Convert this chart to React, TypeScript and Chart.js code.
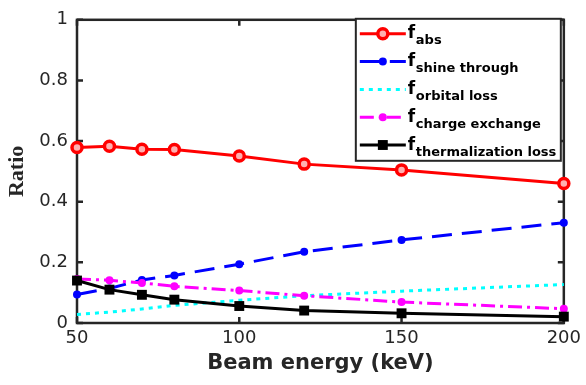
import React, { useEffect, useRef } from "react";
import { Chart, registerables } from "chart.js";

Chart.register(...registerables);

const beamEnergy = [50, 60, 70, 80, 100, 120, 150, 200];
const fAbs = [0.579, 0.583, 0.573, 0.572, 0.551, 0.524, 0.505, 0.46];
const fShineThrough = [0.094, 0.114, 0.142, 0.157, 0.194, 0.235, 0.274, 0.331];
const fOrbitalLoss = [0.028, 0.036, 0.046, 0.058, 0.075, 0.09, 0.105, 0.127];
const fChargeExchange = [0.145, 0.141, 0.132, 0.121, 0.107, 0.09, 0.069, 0.047];
const fThermalizationLoss = [0.14, 0.11, 0.093, 0.077, 0.056, 0.041, 0.032, 0.021];

const xTickValues = [50, 100, 150, 200];
const yTickValues = [0, 0.2, 0.4, 0.6, 0.8, 1];
const seriesSubscripts = ["abs", "shine through", "orbital loss", "charge exchange", "thermalization loss"];
const xTitle = "Beam energy (keV)";
const yTitle = "Ratio";

const AXIS_COLOR = "#262626";

type Style = {
  color: string;
  fill: string;
  dash: number[];
  marker: "circle" | "rect" | "none";
  radius: number;
  markerBorder: number;
};

const styles: Style[] = [
  { color: "#ff0000", fill: "#ffb0b0", dash: [], marker: "circle", radius: 5, markerBorder: 3.5 },
  { color: "#0000ff", fill: "#0000ff", dash: [20, 10], marker: "circle", radius: 4, markerBorder: 0 },
  { color: "#00ffff", fill: "#00ffff", dash: [4, 5], marker: "none", radius: 0, markerBorder: 0 },
  { color: "#ff00ff", fill: "#ff00ff", dash: [14, 5, 3, 5], marker: "circle", radius: 4, markerBorder: 0 },
  { color: "#000000", fill: "#000000", dash: [], marker: "rect", radius: 7, markerBorder: 0 },
];

const seriesValues = [fAbs, fShineThrough, fOrbitalLoss, fChargeExchange, fThermalizationLoss];

const framePlugin = {
  id: "frame",
  beforeDatasetsDraw(chart: any) {
    const { ctx, chartArea: a, scales } = chart;
    ctx.save();
    ctx.strokeStyle = AXIS_COLOR;
    ctx.lineWidth = 2.5;
    ctx.setLineDash([]);
    ctx.strokeRect(a.left, a.top, a.right - a.left, a.bottom - a.top);
    const t = 6;
    ctx.beginPath();
    for (const v of xTickValues) {
      const px = scales.x.getPixelForValue(v);
      ctx.moveTo(px, a.bottom);
      ctx.lineTo(px, a.bottom - t);
      ctx.moveTo(px, a.top);
      ctx.lineTo(px, a.top + t);
    }
    for (const v of yTickValues) {
      const py = scales.y.getPixelForValue(v);
      ctx.moveTo(a.left, py);
      ctx.lineTo(a.left + t, py);
      ctx.moveTo(a.right, py);
      ctx.lineTo(a.right - t, py);
    }
    ctx.stroke();
    ctx.restore();
  },
};

const legendPlugin = {
  id: "matlabLegend",
  afterDraw(chart: any) {
    const { ctx, chartArea: a } = chart;
    const right = a.right - 3;
    const left = right - 205;
    const top = a.top - 1;
    const rowH = 27.8;
    const height = 142;
    ctx.save();
    ctx.fillStyle = "#ffffff";
    ctx.fillRect(left, top, right - left, height);
    ctx.strokeStyle = AXIS_COLOR;
    ctx.lineWidth = 2;
    ctx.setLineDash([]);
    ctx.strokeRect(left, top, right - left, height);
    seriesSubscripts.forEach((sub, i) => {
      const s = styles[i];
      const y = top + 15 + i * rowH;
      ctx.strokeStyle = s.color;
      ctx.lineWidth = 3;
      ctx.setLineDash(s.dash);
      ctx.beginPath();
      ctx.moveTo(left + 4, y);
      ctx.lineTo(left + 50, y);
      ctx.stroke();
      ctx.setLineDash([]);
      const mx = left + 27;
      ctx.fillStyle = s.fill;
      if (s.marker === "circle") {
        ctx.beginPath();
        ctx.arc(mx, y, s.radius, 0, Math.PI * 2);
        ctx.fill();
        if (s.markerBorder > 0) {
          ctx.lineWidth = s.markerBorder;
          ctx.strokeStyle = s.color;
          ctx.stroke();
        }
      } else if (s.marker === "rect") {
        const h = s.radius / Math.SQRT2;
        ctx.fillRect(mx - h, y - h, 2 * h, 2 * h);
      }
      ctx.fillStyle = "#000000";
      ctx.textAlign = "left";
      ctx.textBaseline = "alphabetic";
      ctx.font = "bold 17px 'DejaVu Sans'";
      ctx.fillText("f", left + 52, y + 4.5);
      ctx.font = "bold 13px 'DejaVu Sans'";
      ctx.fillText(sub, left + 60, y + 10.5);
    });
    ctx.restore();
  },
};

export default function App() {
  const canvasRef = useRef<HTMLCanvasElement | null>(null);

  useEffect(() => {
    if (!canvasRef.current) return;
    const datasets = seriesValues.map((vals, i) => {
      const s = styles[i];
      return {
        label: "f " + seriesSubscripts[i],
        data: beamEnergy.map((x, k) => ({ x, y: vals[k] })),
        borderColor: s.color,
        backgroundColor: s.color,
        borderWidth: 3,
        borderDash: s.dash,
        pointStyle: s.marker === "none" ? "circle" : s.marker,
        pointRadius: s.marker === "none" ? 0 : s.radius,
        pointBorderWidth: s.markerBorder,
        pointBackgroundColor: s.fill,
        pointBorderColor: s.color,
        tension: 0,
        clip: false as any,
        order: 5 - i,
      };
    });

    const chart = new Chart(canvasRef.current, {
      type: "line",
      data: { datasets },
      options: {
        responsive: false,
        animation: false,
        devicePixelRatio: 1,
        layout: { padding: { top: 16, right: 18, left: 0, bottom: 0 } },
        plugins: {
          legend: { display: false },
          tooltip: { enabled: false },
        },
        scales: {
          x: {
            type: "linear",
            min: 50,
            max: 200,
            afterBuildTicks: (scale: any) => {
              scale.ticks = xTickValues.map((v) => ({ value: v }));
            },
            afterFit: (scale: any) => {
              scale.height = 62;
            },
            grid: { display: false, drawTicks: false },
            border: { display: false },
            ticks: {
              padding: 5,
              color: AXIS_COLOR,
              font: { family: "'DejaVu Sans'", size: 18 },
              maxRotation: 0,
              callback: (v: any) => String(v),
            },
            title: {
              display: true,
              text: xTitle,
              color: AXIS_COLOR,
              font: { family: "'DejaVu Sans'", size: 21, weight: "bold" },
              padding: { top: 0, bottom: 9 },
            },
          },
          y: {
            type: "linear",
            min: 0,
            max: 1,
            afterBuildTicks: (scale: any) => {
              scale.ticks = yTickValues.map((v) => ({ value: v }));
            },
            afterFit: (scale: any) => {
              scale.width = 77;
            },
            grid: { display: false, drawTicks: false },
            border: { display: false },
            ticks: {
              padding: 9,
              color: AXIS_COLOR,
              font: { family: "'DejaVu Sans'", size: 18 },
              callback: (v: any) => String(Number(Number(v).toFixed(1))),
            },
            title: {
              display: true,
              text: yTitle,
              color: AXIS_COLOR,
              font: { family: "'Liberation Serif'", size: 22, weight: "bold" },
              padding: { top: 4, bottom: 0 },
            },
          },
        },
      },
      plugins: [framePlugin, legendPlugin],
    });
    return () => chart.destroy();
  }, []);

  return (
    <div style={{ position: "fixed", left: 0, top: 0, width: 586, height: 385, background: "#ffffff" }}>
      <canvas ref={canvasRef} width={586} height={385} style={{ width: 586, height: 385, display: "block" }} />
    </div>
  );
}
